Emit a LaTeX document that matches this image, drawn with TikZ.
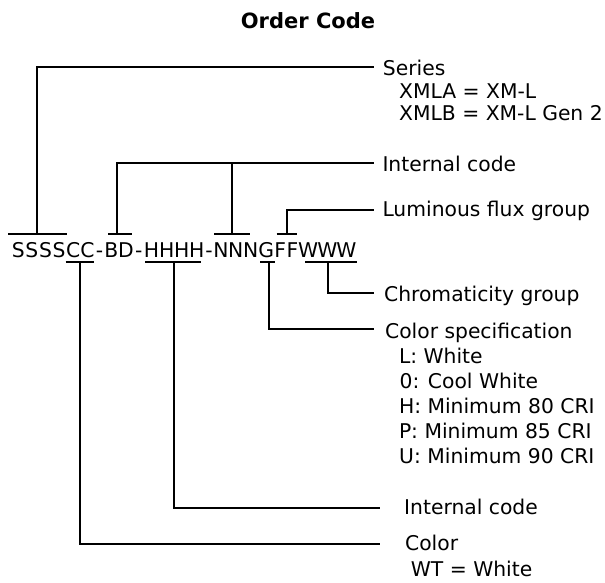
\documentclass[tikz,border=0pt]{standalone}
\usepackage{fontspec}
\setmainfont{DejaVu Sans}
\newcommand\cbx[2]{\makebox[#1pt][c]{#2}}
\begin{document}
\begin{tikzpicture}[x=1pt,y=-1pt,
  ln/.style={line width=2pt},
  lbl/.style={anchor=base west, inner sep=0pt, font=\fontsize{20.3}{24}\selectfont},
  codetxt/.style={anchor=base west, inner sep=0pt, font=\fontsize{20.3}{24}\selectfont},
  ttl/.style={anchor=base, inner sep=0pt, font=\bfseries\fontsize{21}{24}\selectfont}]
\useasboundingbox (0,0) rectangle (605,582);
% title and code
\node[ttl] (title) at (308,28.5) {Order Code};
\node[codetxt] (code) at (11.3,257.3) {%
\cbx{13.6}{S}\cbx{13.6}{S}\cbx{13.6}{S}\cbx{13.6}{S}%
\cbx{14.4}{C}\cbx{14.4}{C}\cbx{9.8}{-}\cbx{13.7}{B}\cbx{15.5}{D}\cbx{10.3}{-}%
\cbx{15.1}{H}\cbx{15.1}{H}\cbx{15.1}{H}\cbx{15.1}{H}\cbx{9}{-}%
\cbx{14.9}{N}\cbx{14.9}{N}\cbx{14.9}{N}\cbx{16}{G}\cbx{12.3}{F}\cbx{12.3}{F}%
\cbx{19.1}{W}\cbx{19.1}{W}\cbx{19.1}{W}};
% labels
\node[lbl] (series) at (382.7,75) {Series};
\node[lbl] (seriesA) at (399,98) {XMLA = XM-L};
\node[lbl] (seriesB) at (399,120) {XMLB = XM-L Gen 2};
\node[lbl] (intA) at (382.3,171.7) {Internal code};
\node[lbl] (lum) at (382.3,216.7) {Luminous flux group};
\node[lbl] (chrom) at (383.9,301.7) {Chromaticity group};
\node[lbl] (cspec) at (384.9,338.3) {Color specification};
\node[lbl] (cs1) at (398.8,363.3) {L: White};
\node[lbl] (cs2) at (399.4,388.3) {0: Cool White};
\node[lbl] (cs3) at (398.8,413.3) {H: Minimum 80 CRI};
\node[lbl] (cs4) at (398.8,438.3) {P: Minimum 85 CRI};
\node[lbl] (cs5) at (399.0,463.3) {U: Minimum 90 CRI};
\node[lbl] (intB) at (404,514) {Internal code};
\node[lbl] (color) at (404.9,550) {Color};
\node[lbl] (colorA) at (410.7,576.7) {WT = White};
% tee bars above the code
\coordinate (sA) at (8.3,234);   \coordinate (sB) at (66.7,234);  \coordinate (sT) at (36.7,234);
\coordinate (bA) at (108.3,234); \coordinate (bB) at (131.7,234); \coordinate (bT) at (116.7,234);
\coordinate (nA) at (214,234);   \coordinate (nB) at (250,234);   \coordinate (nT) at (231.7,234);
\coordinate (fA) at (276.7,234); \coordinate (fB) at (296.7,234); \coordinate (fT) at (286.7,234);
% tee bars below the code
\coordinate (cA) at (65.7,262.3);  \coordinate (cB) at (94,262.3);    \coordinate (cT) at (80,262.3);
\coordinate (hA) at (145,262.3);   \coordinate (hB) at (201,262.3);   \coordinate (hT) at (174,262.3);
\coordinate (gA) at (260,262.3);   \coordinate (gB) at (275,262.3);   \coordinate (gT) at (269,262.3);
\coordinate (wA) at (305,262.3);   \coordinate (wB) at (356.7,262.3); \coordinate (wT) at (328,262.3);
% connector ends at the labels
\coordinate (seriesE) at ([shift={(-8.7,-8.3)}]series.base west);
\coordinate (intAE)   at ([shift={(-8.3,-9)}]intA.base west);
\coordinate (lumE)    at ([shift={(-8.3,-6.7)}]lum.base west);
\coordinate (chromE)  at ([shift={(-9.9,-8.4)}]chrom.base west);
\coordinate (cspecE)  at ([shift={(-10.9,-9)}]cspec.base west);
\coordinate (intBE)   at ([shift={(-24,-5.7)}]intB.base west);
\coordinate (colorE)  at ([shift={(-24.9,-5.7)}]color.base west);
% bars
\foreach \p in {s,b,n,f,c,h,g,w} \draw[ln] (\p A) -- (\p B);
% connectors
\draw[ln] (sT) |- (seriesE);
\draw[ln] (bT) |- (intAE);
\draw[ln] (nT) -- (nT |- intAE);
\draw[ln] (fT) |- (lumE);
\draw[ln] (wT) |- (chromE);
\draw[ln] (gT) |- (cspecE);
\draw[ln] (hT) |- (intBE);
\draw[ln] (cT) |- (colorE);
\end{tikzpicture}
\end{document}
